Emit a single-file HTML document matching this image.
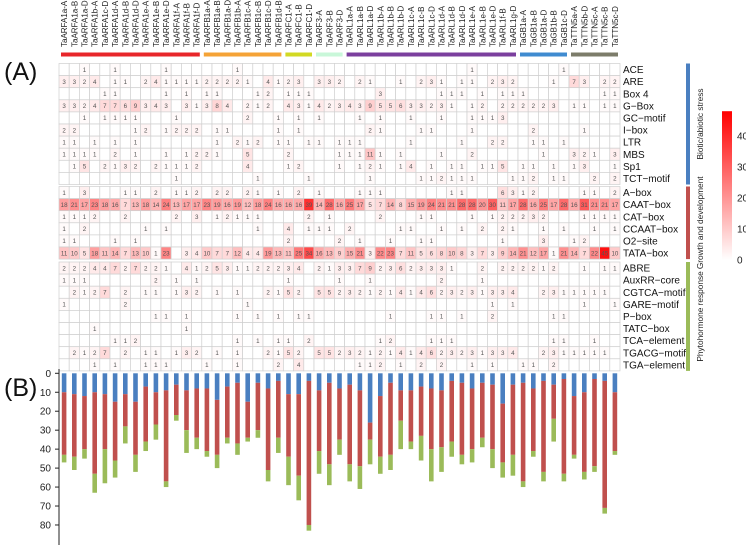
<!DOCTYPE html>
<html><head><meta charset="utf-8"><style>
html,body{margin:0;padding:0;background:#fff;}
svg{display:block;font-family:"Liberation Sans",sans-serif;}
</style></head><body>
<svg id="fig" width="746" height="548" viewBox="0 0 746 548" xmlns="http://www.w3.org/2000/svg">
<text x="4" y="80" font-size="25" fill="#111">(A)</text>
<text x="4" y="396" font-size="25" fill="#111">(B)</text>
<g id="heat"></g>
<g id="bars"></g>
</svg>
<script>
const genes = ["TaARFA1a-A","TaARFA1a-B","TaARFA1a-D","TaARFA1b-A","TaARFA1c-D","TaARFA1d-A","TaARFA1d-B","TaARFA1d-D","TaARFA1e-A","TaARFA1e-B","TaARFA1e-D","TaARFA1f-A","TaARFA1f-B","TaARFA1f-D",
"TaARFB1a-A","TaARFB1a-B","TaARFB1a-D","TaARFB1b-A","TaARFB1c-A","TaARFB1c-B","TaARFB1c-D","TaARFB1d-B",
"TaARFC1-A","TaARFC1-B","TaARFC1-D","TaARF3-A","TaARF3-B","TaARF3-D",
"TaARL1a-A","TaARL1a-B","TaARL1a-D","TaARL1b-A","TaARL1b-B","TaARL1b-D","TaARL1c-A","TaARL1c-B","TaARL1c-D","TaARL1d-A","TaARL1d-B","TaARL1d-D","TaARL1e-A","TaARL1e-B","TaARL1e-D","TaARL1f-B","TaARL1g-D",
"TaGB1a-A","TaGB1a-B","TaGB1a-D","TaGB1b-B","TaGB1c-D","TaTTN5a-A","TaTTN5b-D","TaTTN5c-A","TaTTN5c-B","TaTTN5c-D"];
const groupNames = ["ARFA","ARFB","ARFC","ARF3","ARL","GB","TTN"];
const groupSizes = [14,8,3,3,17,5,5];
const groupColors = ["#e8262a","#f5a336","#d2d923","#c9f7d9","#7b3f9e","#3f8bd0","#7c7c6a"];

const motifs = ["ACE","ARE","Box 4","G\u2212Box","GC\u2212motif","I\u2212box","LTR","MBS","Sp1","TCT\u2212motif",
"A\u2212box","CAAT\u2212box","CAT\u2212box","CCAAT\u2212box","O2\u2212site","TATA\u2212box",
"ABRE","AuxRR\u2212core","CGTCA\u2212motif","GARE\u2212motif","P\u2212box","TATC\u2212box","TCA\u2212element","TGACG\u2212motif","TGA\u2212element"];
const sectionSizes = [10,6,9];
const sectionNames = ["Biotic/abiotic stress","Growth and development","Phytohormone response"];

const ACE = [0,0,1,0,0,1,0,0,0,0,1,0,0,0, 0,0,0,1,0,0,0,0,0,0,0,0,0,0, 0,0,0,0,0,0,0,0,0,0,0,0,1,0, 0,0,0,0,0,0,0,1,0,0,0,0,0];
const ARE = [3,3,2,4,0,1,1,0,2,4,1,1,1,1, 2,2,2,2,1,0,4,1,2,3,0,3,3,2, 0,2,1,0,0,1,0,2,3,1,0,1,1,0, 2,3,2,0,0,0,1,0,7,3,0,2,2];
const BOX4 = [0,0,0,0,1,1,0,0,0,0,1,0,1,0, 1,1,0,0,0,1,2,0,1,1,1,0,0,0, 0,0,0,3,0,0,0,0,0,1,1,1,0,1, 0,1,1,1,0,0,0,0,0,0,0,1,1];
const GBOX = [3,3,2,4,7,7,6,9,3,4,3,0,3,1, 3,8,4,0,2,1,2,0,4,3,1,4,2,3, 4,3,9,5,5,6,3,3,2,3,1,0,1,2, 0,2,2,2,2,2,3,0,1,1,0,1,1];
const GC = [0,0,1,0,1,1,1,1,0,0,0,1,0,0, 0,0,0,0,2,0,0,1,0,1,0,1,0,0, 0,1,0,1,0,0,1,0,0,1,0,0,1,1, 1,3,0,0,0,0,0,0,0,0,0,0,0];
const IBOX = [2,2,0,0,0,0,0,1,2,0,1,2,2,2, 0,1,1,0,0,0,0,1,0,1,0,0,0,0, 0,0,2,1,0,0,0,1,1,0,0,0,1,0, 0,0,0,0,2,0,0,0,0,1,0,0,0];
const LTR = [1,1,0,1,0,1,0,1,0,0,0,0,0,0, 0,1,0,2,1,2,0,1,1,0,1,1,0,1, 1,1,0,0,0,0,1,0,0,0,0,1,0,0, 2,2,0,0,1,1,0,1,0,0,0,0,0];
const MBS = [1,1,1,1,0,2,0,1,0,0,1,0,1,2, 2,1,0,0,5,0,0,0,2,0,0,0,0,1, 1,1,11,1,0,1,0,0,0,1,0,0,2,0, 0,0,0,0,0,1,0,0,3,2,1,0,3];
const SP1 = [0,1,5,0,2,1,3,2,0,2,1,1,1,2, 0,0,0,0,4,0,0,0,1,2,0,0,0,1, 0,1,2,1,0,1,4,0,1,0,1,1,0,1, 1,5,0,1,1,0,1,0,1,3,0,0,1];
const TCT = [0,0,0,0,0,0,0,0,0,0,0,1,0,0, 0,0,0,0,0,1,0,0,0,0,1,0,0,0, 0,0,1,0,0,0,0,1,1,2,1,1,1,0, 0,0,1,1,2,0,1,1,0,0,2,0,2];
const ABOX = [1,0,3,0,0,0,1,1,0,2,0,1,1,2, 0,2,2,0,2,1,0,1,0,2,0,1,0,0, 0,1,1,1,0,0,0,0,0,0,1,1,0,0, 0,6,3,1,2,0,0,0,0,1,1,0,2];
const CAAT = [18,21,17,23,18,16,7,13,18,14,24,13,17,17, 23,19,16,19,12,18,24,16,16,16,39,14,28,16, 25,17,5,7,14,8,15,19,24,21,21,28,28,20, 30,11,17,28,16,25,17,28,16,31,21,21,17];
const CAT = [1,1,1,2,0,0,2,0,0,0,0,2,0,3, 0,1,2,1,1,1,0,0,0,0,2,0,1,0, 0,0,0,2,0,0,0,1,1,0,0,0,1,0, 1,2,2,2,3,2,0,0,0,1,1,1,1];
const CCAAT = [1,0,2,0,0,0,0,0,1,0,1,0,0,0, 0,0,0,0,0,1,0,0,4,0,1,1,1,0, 2,0,0,0,0,1,1,0,0,1,0,1,0,2, 0,2,1,0,0,1,0,1,0,0,1,0,1];
const O2 = [1,1,0,0,0,1,0,1,0,0,0,0,0,0, 0,0,0,0,0,0,0,0,2,0,0,0,0,2, 0,1,0,0,1,0,0,1,1,0,0,0,0,0, 0,1,0,0,0,3,0,0,1,2,0,0,0];
const TATA = [11,10,5,18,11,14,7,13,10,1,23,0,3,4, 10,7,7,12,4,4,19,13,11,25,34,16,13,9, 15,21,3,22,23,7,11,5,6,8,10,8,3,7, 3,9,14,21,12,17,1,21,14,7,22,45,10];
const ABRE = [2,2,2,4,4,7,2,7,2,2,1,0,4,1, 2,5,3,1,1,2,2,2,3,4,0,2,1,3, 3,7,9,2,3,6,2,3,3,3,1,0,0,2, 0,2,2,2,2,1,2,0,0,1,0,1,1];
const AUXRR = [1,1,1,0,0,0,0,0,0,2,0,1,0,1, 0,0,0,0,0,0,0,0,1,0,0,0,0,1, 0,0,1,0,0,0,0,0,0,2,0,0,0,1, 0,0,0,0,0,0,0,0,0,0,0,0,0];
const CGTCA = [0,2,1,2,7,0,2,0,1,1,0,1,3,2, 0,1,0,1,0,0,2,1,5,2,0,5,5,2, 3,2,1,2,1,4,1,4,6,2,3,2,3,1, 3,3,4,0,0,2,3,1,1,1,1,1,0];
const GARE = [1,0,0,0,0,0,2,0,0,0,0,0,0,0, 0,0,0,0,1,0,0,0,0,0,0,0,0,0, 0,0,0,0,0,0,0,0,0,0,0,0,0,0, 1,0,1,0,0,0,0,0,0,1,0,0,1];
const PBOX = [0,0,0,0,0,0,0,0,0,1,1,0,1,0, 0,0,0,1,0,1,0,1,0,1,1,0,0,0, 0,0,0,0,1,0,0,0,1,1,0,1,0,0, 2,0,0,0,0,0,1,1,0,0,0,0,0];
const TATC = [0,0,0,1,0,0,0,0,0,0,0,0,1,0, 0,0,0,0,0,0,0,0,0,0,0,0,0,0, 0,0,0,0,0,0,0,0,0,0,0,0,0,0, 0,0,0,0,0,0,0,0,0,0,0,0,0];
const TCA = [0,0,0,0,0,1,1,2,0,0,0,0,0,0, 0,0,0,1,0,1,0,1,1,0,2,0,0,0, 0,0,0,1,2,0,0,0,1,1,1,0,0,0, 0,0,0,0,0,0,1,1,0,0,1,0,0];
const TGACG = [0,2,1,2,7,0,2,0,1,1,0,1,3,2, 0,1,0,1,0,0,2,1,5,2,0,5,5,2, 3,2,1,2,1,4,1,4,6,2,3,2,3,1, 3,3,4,0,0,2,3,1,1,1,1,1,0];
const TGA = [0,0,0,1,0,1,0,0,1,1,1,0,0,0, 1,0,0,1,0,0,0,2,0,4,0,0,0,0, 0,1,1,2,0,1,0,2,0,2,0,0,1,0, 1,0,0,1,1,0,2,0,0,0,0,0,0];
const matrix = [ACE,ARE,BOX4,GBOX,GC,IBOX,LTR,MBS,SP1,TCT,ABOX,CAAT,CAT,CCAAT,O2,TATA,ABRE,AUXRR,CGTCA,GARE,PBOX,TATC,TCA,TGACG,TGA];
const colorTicks = [0,10,20,30,40];
const barTicks = [0,10,20,30,40,50,60,70,80];

const NS = "http://www.w3.org/2000/svg";
function mk(tag, attrs, parent){ const e=document.createElementNS(NS,tag); for(const k in attrs) e.setAttribute(k,attrs[k]); parent.appendChild(e); return e; }
const heat = document.getElementById('heat');
const barsG = document.getElementById('bars');
const gridL = 59, gridR = 620, nCols = genes.length;
const colW = (gridR-gridL)/nCols, rowH = 12.1;
const sectTops = [63.5, 186.5, 262];
const cMax = 48;
function xCol(i){ return gridL + i*colW; }
function cellColor(v){ const t=Math.min(v/cMax,1); const g=Math.round(255*(1-t)); return `rgb(255,${g},${g})`; }

// column labels (read bottom-to-top, bottom at y=47)
genes.forEach((g,i)=>{
  const cx = xCol(i)+colW/2+3;
  const t = mk('text',{x:cx,y:47,'font-size':8,fill:'#222','text-anchor':'start',transform:`rotate(-90 ${cx} 47)`},heat);
  
  
  t.textContent = g;
});
// group bars
let gs = 0;
groupSizes.forEach((n,k)=>{
  const r = mk('rect',{x:xCol(gs)+2,y:52.5,width:n*colW-4,height:4,fill:groupColors[k]},heat);
  
  
  gs += n;
});
// cells
let ri = 0;
sectionSizes.forEach((n,s)=>{
  for(let j=0;j<n;j++,ri++){
    const y = sectTops[s]+j*rowH;
    const row = matrix[ri];
    for(let i=0;i<nCols;i++){
      const v = row[i];
      const r = mk('rect',{x:xCol(i),y:y,width:colW,height:rowH,fill:v?cellColor(v):'#fff',stroke:'#cfcfcf','stroke-width':0.7},heat);
      
      
      if(v){
        const t = mk('text',{x:xCol(i)+colW/2,y:y+rowH/2+2.2,'font-size':6.2,fill:'#555','text-anchor':'middle'},heat);
        
        
        t.textContent = v;
      }
    }
    const lab = mk('text',{x:623,y:y+rowH/2+3.5,'font-size':10,fill:'#111'},heat);
    
    
    lab.textContent = motifs[ri];
  }
  const top = sectTops[s], bot = sectTops[s]+n*rowH;
  const stripe = mk('rect',{x:686,y:top,width:4,height:bot-top,fill:['#4a7fc0','#c0504d','#9bbb59'][s]},heat);
  
  
  const cy = (top+bot)/2, tx = 703;
  const st = mk('text',{x:tx,y:cy,'font-size':8.3,fill:'#222','text-anchor':'middle',transform:`rotate(-90 ${tx} ${cy})`},heat);
  
  
  st.textContent = sectionNames[s];
});
// colorbar
const defs = mk('defs',{},heat);
const lg = mk('linearGradient',{id:'cb',x1:0,y1:1,x2:0,y2:0},defs);
mk('stop',{offset:0,'stop-color':'#fff'},lg);
mk('stop',{offset:1,'stop-color':'#ff0000'},lg);
const cbBot = 260, cbPx = 3.1;
const cb = mk('rect',{x:722,y:cbBot-cMax*cbPx,width:10,height:cMax*cbPx,fill:'url(#cb)'},heat);


colorTicks.forEach(v=>{
  const t = mk('text',{x:737,y:cbBot-v*cbPx+3.5,'font-size':10,fill:'#222'},heat);
  
  
  t.textContent = v;
});

// stacked bar chart (sums of each section per gene)
const y0 = 373.3, pxU = 1.896;
function yB(v){ return y0 + v*pxU; }
const ax = mk('line',{x1:gridL,y1:369,x2:gridL,y2:545,stroke:'#222','stroke-width':1},barsG);


barTicks.forEach(v=>{
  mk('line',{x1:gridL-4,y1:yB(v),x2:gridL,y2:yB(v),stroke:'#222','stroke-width':1},barsG);
  const t = mk('text',{x:gridL-8,y:yB(v)+3.5,'font-size':10,fill:'#222','text-anchor':'end'},barsG);
  
  
  t.textContent = v;
});
const segCols = ['#4a7fc0','#c0504d','#9bbb59'];
for(let i=0;i<nCols;i++){
  let acc = 0, r0 = 0;
  sectionSizes.forEach((n,s)=>{
    let sum = 0;
    for(let j=0;j<n;j++) sum += matrix[r0+j][i];
    r0 += n;
    const b = mk('rect',{x:xCol(i)+colW/2-2.3,y:yB(acc),width:4.6,height:sum*pxU,fill:segCols[s]},barsG);
    
    
    acc += sum;
  });
}
</script>
</body></html>
